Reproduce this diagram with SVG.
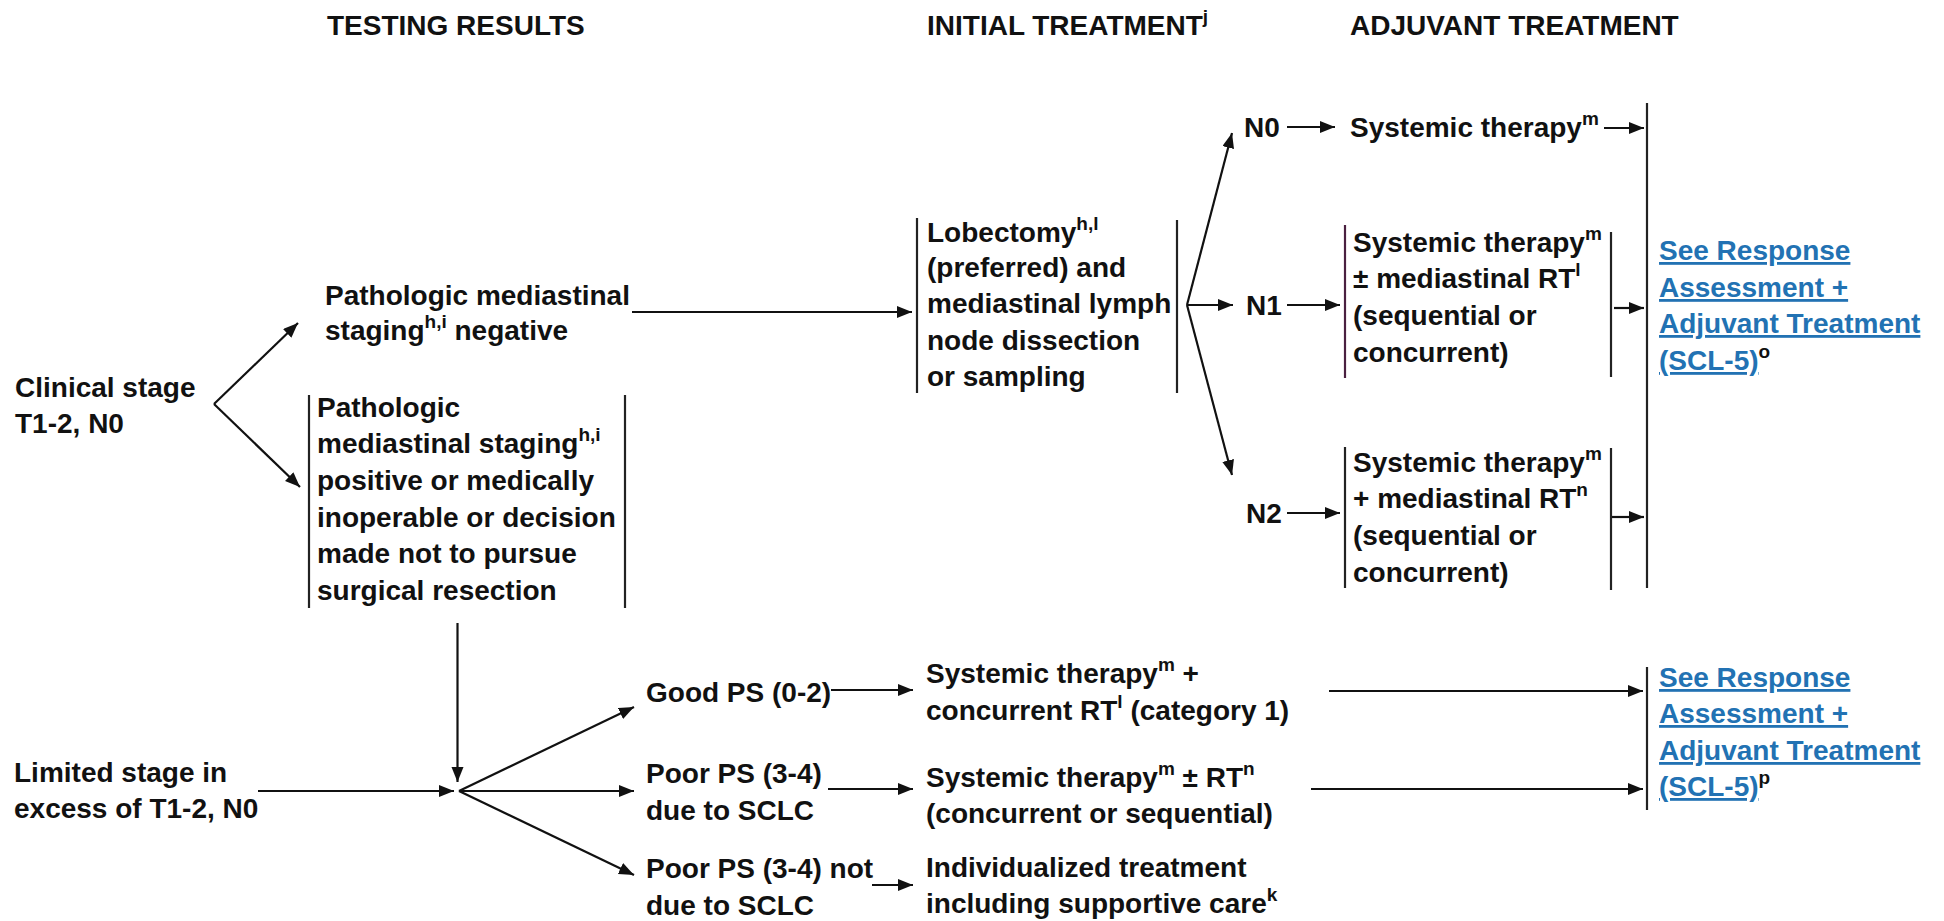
<svg xmlns="http://www.w3.org/2000/svg" width="1944" height="921" viewBox="0 0 1944 921">
  <defs>
    <marker id="arr" markerUnits="userSpaceOnUse" markerWidth="17" markerHeight="13" refX="15" refY="6" orient="auto">
      <path d="M0,0 L15,6 L0,12 z" fill="#111"/>
    </marker>
    <style>
      text { font-family: "Liberation Sans", Arial, sans-serif; font-weight: bold; font-size: 28px; fill: #111; }
      .sup { font-size: 19px; }
      .link { fill: #2272b3; text-decoration: underline; }
      .bar { stroke: #222; stroke-width: 2.2; fill: none; }
      .conn path { stroke: #111; stroke-width: 2.2; fill: none; marker-end: url(#arr); }
    </style>
  </defs>
  <rect width="1944" height="921" fill="#fff"/>

  <!-- column headings -->
  <g id="headers">
    <text x="327" y="35">TESTING RESULTS</text>
    <text x="927" y="35">INITIAL TREATMENT<tspan class="sup" dy="-12">j</tspan></text>
    <text x="1350" y="35">ADJUVANT TREATMENT</text>
  </g>

  <!-- connectors -->
  <g id="connectors" class="conn">
    <path d="M214,404 L298,323"/>
    <path d="M214,404 L300,487"/>
    <path d="M632,312 L912,312"/>
    <path d="M1187,305 L1232,133"/>
    <path d="M1187,305 L1233,305"/>
    <path d="M1187,305 L1232,475"/>
    <path d="M1287,127 L1335,127"/>
    <path d="M1287,305 L1340,305"/>
    <path d="M1287,513 L1340,513"/>
    <path d="M1604,128 L1644,128"/>
    <path d="M1614,308 L1644,308"/>
    <path d="M1612,517 L1644,517"/>
    <path d="M457.5,623 L457.5,782"/>
    <path d="M258,791 L454,791"/>
    <path d="M459,791 L634,707"/>
    <path d="M459,791 L634,791"/>
    <path d="M459,791 L634,875"/>
    <path d="M831,690 L913,690"/>
    <path d="M828,789 L913,789"/>
    <path d="M872,885 L913,885"/>
    <path d="M1329,691 L1643,691"/>
    <path d="M1311,789 L1643,789"/>
  </g>

  <g id="clinical-stage">
    <text x="15" y="397">Clinical stage</text>
    <text x="15" y="433">T1-2, N0</text>
  </g>

  <g id="staging-negative">
    <text x="325" y="305">Pathologic mediastinal</text>
    <text x="325" y="340">staging<tspan class="sup" dy="-12">h,i</tspan><tspan dy="12"> negative</tspan></text>
  </g>

  <g id="staging-positive">
    <line class="bar" x1="309" y1="395" x2="309" y2="608"/>
    <line class="bar" x1="625" y1="395" x2="625" y2="608"/>
    <text x="317" y="417">Pathologic</text>
    <text x="317" y="453">mediastinal staging<tspan class="sup" dy="-12">h,i</tspan></text>
    <text x="317" y="490">positive or medically</text>
    <text x="317" y="527">inoperable or decision</text>
    <text x="317" y="563">made not to pursue</text>
    <text x="317" y="600">surgical resection</text>
  </g>

  <g id="lobectomy">
    <line class="bar" x1="917" y1="218" x2="917" y2="393"/>
    <line class="bar" x1="1177" y1="220" x2="1177" y2="393"/>
    <text x="927" y="242">Lobectomy<tspan class="sup" dy="-12">h,l</tspan></text>
    <text x="927" y="277">(preferred) and</text>
    <text x="927" y="313">mediastinal lymph</text>
    <text x="927" y="350">node dissection</text>
    <text x="927" y="386">or sampling</text>
  </g>

  <g id="n0">
    <text x="1244" y="137">N0</text>
  </g>
  <g id="n1">
    <text x="1246" y="315">N1</text>
  </g>
  <g id="n2">
    <text x="1246" y="523">N2</text>
  </g>

  <g id="n0-therapy">
    <text x="1350" y="137">Systemic therapy<tspan class="sup" dy="-12">m</tspan></text>
  </g>

  <g id="n1-therapy">
    <line x1="1345" y1="225" x2="1345" y2="378" stroke="#4a2040" stroke-width="2.2"/>
    <line class="bar" x1="1611" y1="232" x2="1611" y2="377"/>
    <text x="1353" y="252">Systemic therapy<tspan class="sup" dy="-12">m</tspan></text>
    <text x="1353" y="288">± mediastinal RT<tspan class="sup" dy="-12">l</tspan></text>
    <text x="1353" y="325">(sequential or</text>
    <text x="1353" y="362">concurrent)</text>
  </g>

  <g id="n2-therapy">
    <line class="bar" x1="1345" y1="447" x2="1345" y2="588"/>
    <line class="bar" x1="1611" y1="448" x2="1611" y2="590"/>
    <text x="1353" y="472">Systemic therapy<tspan class="sup" dy="-12">m</tspan></text>
    <text x="1353" y="508">+ mediastinal RT<tspan class="sup" dy="-12">n</tspan></text>
    <text x="1353" y="545">(sequential or</text>
    <text x="1353" y="582">concurrent)</text>
  </g>

  <g id="response-upper">
    <line class="bar" x1="1647" y1="103" x2="1647" y2="588"/>
    <text x="1659" y="260"><tspan class="link">See Response</tspan></text>
    <text x="1659" y="297"><tspan class="link">Assessment +</tspan></text>
    <text x="1659" y="333"><tspan class="link">Adjuvant Treatment</tspan></text>
    <text x="1659" y="370"><tspan class="link">(SCL-5)</tspan><tspan class="sup" dy="-12">o</tspan></text>
  </g>

  <g id="limited-stage">
    <text x="14" y="782">Limited stage in</text>
    <text x="14" y="818">excess of T1-2, N0</text>
  </g>

  <g id="good-ps">
    <text x="646" y="702">Good PS (0-2)</text>
  </g>
  <g id="poor-ps-sclc">
    <text x="646" y="783">Poor PS (3-4)</text>
    <text x="646" y="820">due to SCLC</text>
  </g>
  <g id="poor-ps-other">
    <text x="646" y="878">Poor PS (3-4) not</text>
    <text x="646" y="915">due to SCLC</text>
  </g>

  <g id="good-ps-therapy">
    <text x="926" y="683">Systemic therapy<tspan class="sup" dy="-12">m</tspan><tspan dy="12"> +</tspan></text>
    <text x="926" y="720">concurrent RT<tspan class="sup" dy="-12">l</tspan><tspan dy="12"> (category 1)</tspan></text>
  </g>
  <g id="poor-ps-therapy">
    <text x="926" y="787">Systemic therapy<tspan class="sup" dy="-12">m</tspan><tspan dy="12"> ± RT</tspan><tspan class="sup" dy="-12">n</tspan></text>
    <text x="926" y="823">(concurrent or sequential)</text>
  </g>
  <g id="individualized">
    <text x="926" y="877">Individualized treatment</text>
    <text x="926" y="913">including supportive care<tspan class="sup" dy="-12">k</tspan></text>
  </g>

  <g id="response-lower">
    <line class="bar" x1="1647" y1="667" x2="1647" y2="810"/>
    <text x="1659" y="687"><tspan class="link">See Response</tspan></text>
    <text x="1659" y="723"><tspan class="link">Assessment + </tspan></text>
    <text x="1659" y="760"><tspan class="link">Adjuvant Treatment</tspan></text>
    <text x="1659" y="796"><tspan class="link">(SCL-5)</tspan><tspan class="sup" dy="-12">p</tspan></text>
  </g>
</svg>
